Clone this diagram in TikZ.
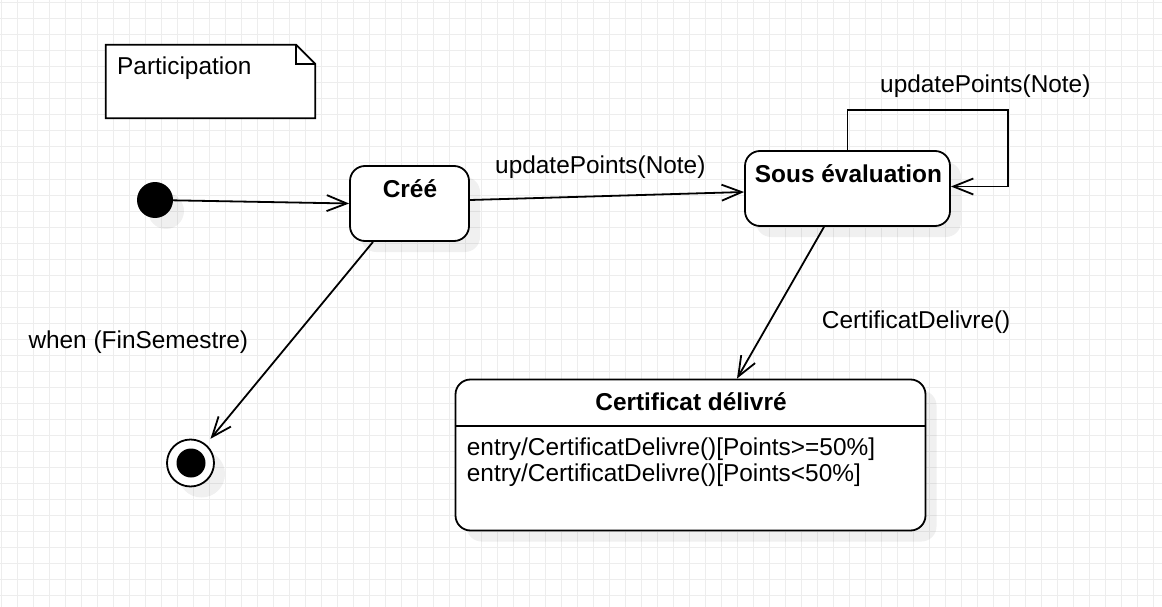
\documentclass[tikz,border=0pt]{standalone}
\usepackage{fontspec}
\setmainfont{Liberation Sans}
\usepackage{tikz}
\usetikzlibrary{arrows.meta,shadows,calc}
\tikzstyle{statebox} = [rectangle, draw, line width=1.8pt, rounded corners=15pt, fill=white, drop shadow={shadow xshift=11pt, shadow yshift=-11pt, fill=black, opacity=0.06}]
\tikzstyle{initstate} = [circle, fill=black, minimum size=36pt, drop shadow={shadow xshift=11pt, shadow yshift=-11pt, fill=black, opacity=0.06}]
\tikzstyle{finalstate} = [circle, draw, line width=1.8pt, fill=white, minimum size=47pt, drop shadow={shadow xshift=11pt, shadow yshift=-11pt, fill=black, opacity=0.06}]
\tikzstyle{label} = [inner sep=0pt, font=\fontsize{24.4}{28}\selectfont]
\tikzset{edge/.style = {
    line width=1.8pt,
    -{Straight Barb[length=20pt,width=16pt]},
  },
  gridline/.style = {black!7, line width=1pt},
  notepen/.style = {draw, line width=1.8pt, fill=white}
}

\begin{document}
\begin{tikzpicture}[x=1pt, y=-1pt]
    \useasboundingbox (0,0) rectangle (1162,607);
    % grid
    \foreach \gx in {1.3,17.3,...,1161.3}
        \draw[gridline] (\gx,0) -- (\gx,607);
    \foreach \gy in {3,19,...,603}
        \draw[gridline] (0,\gy) -- (1162,\gy);

    % vertices
    \node[minimum width=209pt, minimum height=73pt, inner sep=0pt] (note) at (210.5,81.5) {};
    \draw[notepen] (note.north west) -- ([xshift=-19pt]note.north east) -- ([yshift=-19pt]note.north east) -- (note.south east) -- (note.south west) -- cycle;
    \draw[line width=1.8pt] ([xshift=-19pt]note.north east) |- ([yshift=-19pt]note.north east);

    \node[initstate] (init) at (155,200) {};
    \node[statebox, minimum width=119pt, minimum height=75pt] (cree) at (409.5,203.5) {};
    \node[statebox, minimum width=205pt, minimum height=75pt] (sous) at (847.5,188.5) {};
    \node[statebox, minimum width=470pt, minimum height=151pt] (cert) at (690.5,455) {};
    \node[finalstate] (final) at (190.5,463) {};
    \node[circle, fill=black, minimum size=29pt] (finaldot) at (191,463) {};

    \draw[line width=1.8pt] ([yshift=-47.4pt]cert.north west) -- ([yshift=-47.4pt]cert.north east);

    % texts
    \node[label, anchor=base west] (lblnote) at (117,74.3) {Participation};
    \node[label, anchor=base] (lblcree) at (410,197.5) {\bfseries Créé};
    \node[label, anchor=base] (lblsous) at (848.5,182.7) {\bfseries Sous évaluation};
    \node[label, anchor=base] (lblcert) at (691,410) {\bfseries Certificat délivré};
    \node[label, anchor=base west] (entry1) at (466.7,455) {entry/CertificatDelivre()[Points>=50\%]};
    \node[label, anchor=base west] (entry2) at (466.7,481.7) {entry/CertificatDelivre()[Points<50\%]};

    \node[label, anchor=base west] (lblloop) at (880,92.3) {updatePoints(Note)};
    \node[label, anchor=base west] (lblupd) at (495,173.3) {updatePoints(Note)};
    \node[label, anchor=base west] (lbldel) at (821.7,328.3) {CertificatDelivre()};
    \node[label, anchor=base west] (lblfin) at (28.3,348.3) {when (FinSemestre)};

    %edges
    \draw[edge] (init) -- (cree.west);
    \draw[edge] ([yshift=3.5pt]cree.east) -- ([yshift=-3.5pt]sous.west);
    \draw[edge] (sous.north) -- ++(0,-40) -| ([xshift=57pt,yshift=2pt]sous.east) -- ([yshift=2pt]sous.east);
    \draw[edge] ([xshift=-23.5pt]sous.south) -- ([xshift=46.5pt]cert.north);
    \draw[edge, shorten >=7pt] ([xshift=-36.5pt]cree.south) -- (final);
\end{tikzpicture}
\end{document}
